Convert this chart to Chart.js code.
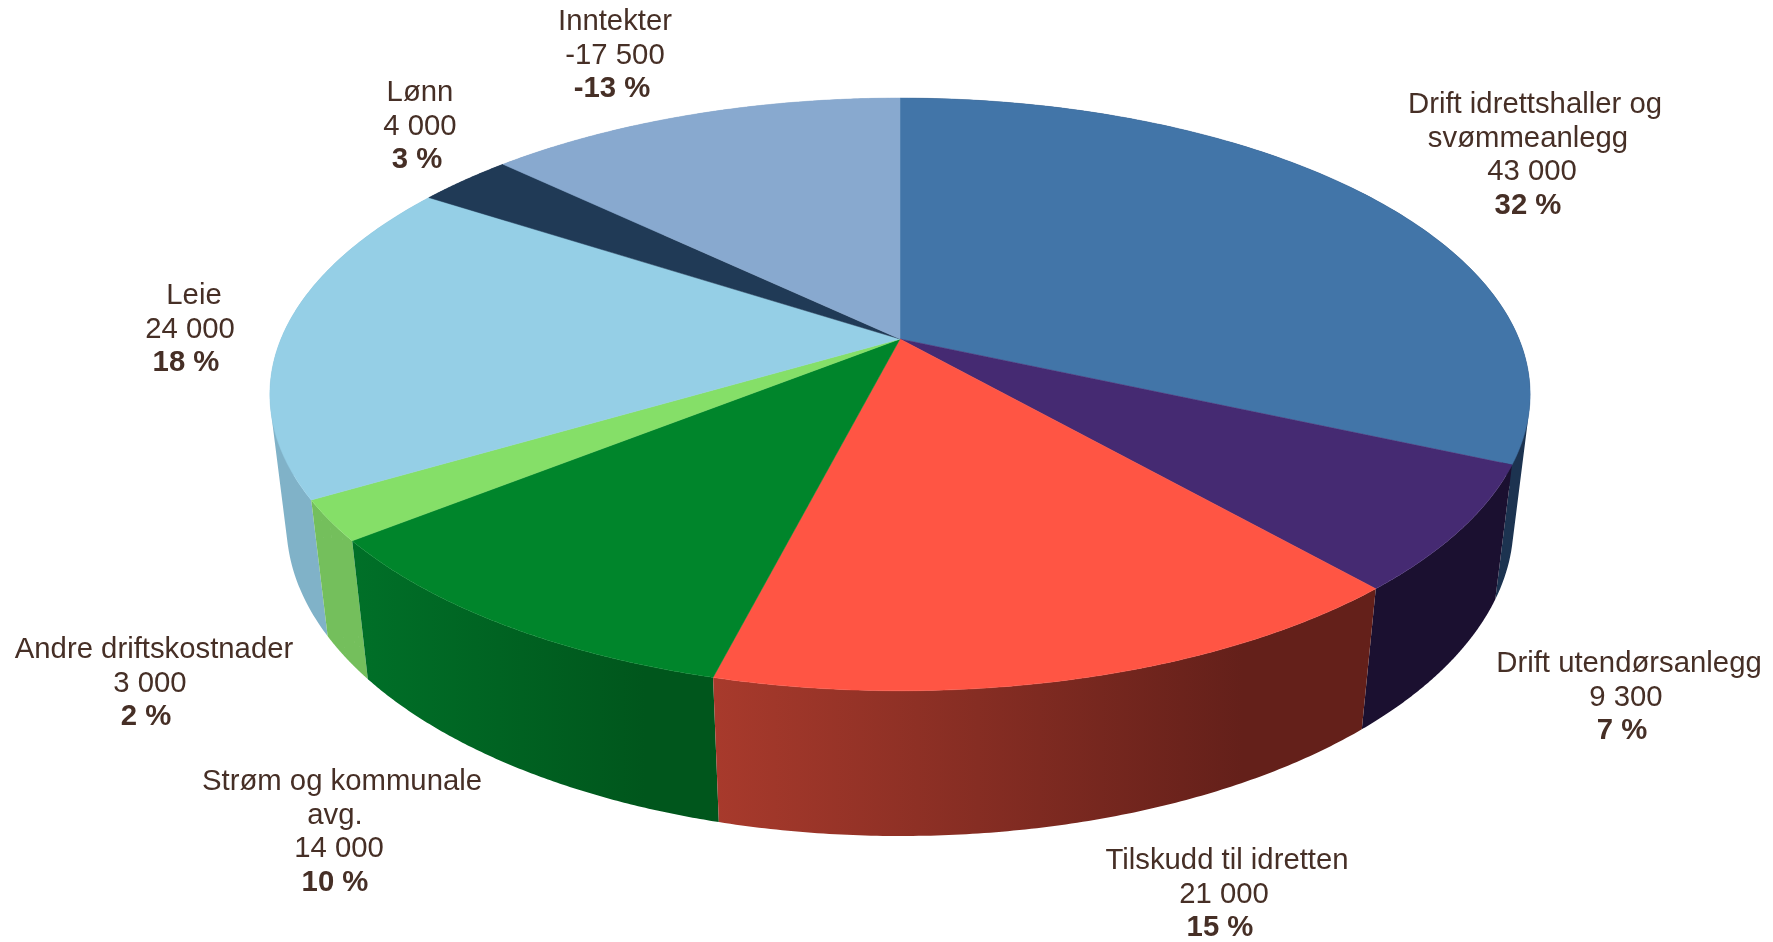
<!DOCTYPE html>
<html lang="no">
<head>
<meta charset="utf-8">
<title>Kostnader idrett</title>
<script src="https://cdn.jsdelivr.net/npm/chart.js@4"></script>
<style>
  html, body { margin: 0; padding: 0; background: #fff; }
  #wrap { width: 1773px; height: 942px; }
</style>
</head>
<body>
<div id="wrap"><canvas id="pie" width="1773" height="942"></canvas></div>
<script>
// Data
const categories = [
  ['Drift idrettshaller og', 'svømmeanlegg'],
  ['Drift utendørsanlegg'],
  ['Tilskudd til idretten'],
  ['Strøm og kommunale', 'avg.'],
  ['Andre driftskostnader'],
  ['Leie'],
  ['Lønn'],
  ['Inntekter']
];
const values = [43000, 9300, 21000, 14000, 3000, 24000, 4000, 17500];
const valueLabels = ['43 000', '9 300', '21 000', '14 000', '3 000', '24 000', '4 000', '-17 500'];
const percentLabels = ['32 %', '7 %', '15 %', '10 %', '2 %', '18 %', '3 %', '-13 %'];

// Farger
const topColors = ['#4275a8', '#452a72', '#ff5544', '#00852b', '#85df68', '#95cfe6', '#203a56', '#88a9cf'];
const wallLeft = ['#1c3350', '#1b1030', '#a83a2c', '#007028', '#74bf5c', '#80b2c8', '#1c3350', '#80a0c0'];
const wallRight = ['#1c3350', '#1b1030', '#64201a', '#00561c', '#74bf5c', '#80b2c8', '#1c3350', '#80a0c0'];

// Plassering av etiketter: midtpunkt x, topp-linje y, forskyvning verdi, forskyvning prosent
const labelPos = [
  [1535, 105, -3, -7], [1629, 664, -3, -7], [1227, 861, -3, -7], [342, 782, -3, -7],
  [154, 650, -4, -8], [194, 296, -4, -8], [420, 93, 0, -3], [615, 22, 0, -3]
];
const textColor = '#462f26';
const lineHeight = 33.8;

// Perspektiv, forhold til radius
const tilt = { bx: 619 / 339, ay: 286 / 339, depth: 131 / 339, p: 0.187, q: 0.026 };

function project(el, t, z) {
  const R = el.outerRadius;
  const u = Math.cos(t);
  const v = Math.sin(t);
  const w = 1 - tilt.p * v + tilt.q * z;
  return {
    x: el.x + tilt.bx * R * u / w,
    y: el.y + (tilt.ay * R * v + tilt.depth * R * z) / w
  };
}

function rim(el, z) {
  const pts = [];
  const n = 120;
  for (let i = 0; i <= n; i++) {
    pts.push(project(el, el.startAngle + (el.endAngle - el.startAngle) * i / n, z));
  }
  return pts;
}

function addPoly(ctx, pts) {
  pts.forEach((p, i) => (i ? ctx.lineTo(p.x, p.y) : ctx.moveTo(p.x, p.y)));
  ctx.closePath();
}

function area(pts) {
  let s = 0;
  pts.forEach((p, i) => {
    const q = pts[(i + 1) % pts.length];
    s += p.x * q.y - q.x * p.y;
  });
  return s;
}

function paint(ctx, fill) {
  ctx.fillStyle = fill;
  ctx.fill();
  ctx.strokeStyle = fill;
  ctx.lineWidth = 0.5;
  ctx.stroke();
}

const pie3d = {
  id: 'pie3d',
  beforeDatasetsDraw(chart) {
    const ctx = chart.ctx;
    const arcs = chart.getDatasetMeta(0).data;
    ctx.save();
    // sidene, bakerst først
    const order = arcs.map((a, i) => i).sort((i, j) =>
      Math.sin((arcs[i].startAngle + arcs[i].endAngle) / 2) - Math.sin((arcs[j].startAngle + arcs[j].endAngle) / 2));
    order.forEach(i => {
      const el = arcs[i];
      const upper = rim(el, 0);
      const lower = rim(el, 1);
      const xs = upper.concat(lower).map(p => p.x);
      const g = ctx.createLinearGradient(Math.min(...xs), 0, Math.max(...xs), 0);
      g.addColorStop(0, wallLeft[i]);
      g.addColorStop(0.8, wallRight[i]);
      g.addColorStop(1, wallRight[i]);
      ctx.beginPath();
      for (let k = 0; k < upper.length - 1; k++) {
        const quad = [upper[k], upper[k + 1], lower[k + 1], lower[k]];
        // samme retning på alle, ellers blir det hull i bretten
        addPoly(ctx, area(quad) < 0 ? quad.reverse() : quad);
      }
      ctx.fillStyle = g;
      ctx.fill();
    });
    // toppen
    arcs.forEach((el, i) => {
      ctx.beginPath();
      addPoly(ctx, [{ x: el.x, y: el.y }].concat(rim(el, 0)));
      paint(ctx, topColors[i]);
    });
    ctx.restore();
    return false;
  },
  afterDraw(chart) {
    const ctx = chart.ctx;
    ctx.save();
    ctx.fillStyle = textColor;
    ctx.textAlign = 'center';
    ctx.textBaseline = 'top';
    categories.forEach((lines, i) => {
      const [x, top, valueShift, percentShift] = labelPos[i];
      let y = top - 15;
      ctx.font = '29.3px "Liberation Sans", Arial, sans-serif';
      lines.forEach((s, k) => {
        ctx.fillText(s, k ? x + percentShift : x, y);
        y += lineHeight;
      });
      ctx.fillText(valueLabels[i], x + valueShift, y);
      y += lineHeight;
      ctx.font = 'bold 29.3px "Liberation Sans", Arial, sans-serif';
      ctx.fillText(percentLabels[i], x + percentShift, y);
    });
    ctx.restore();
  }
};

new Chart(document.getElementById('pie'), {
  type: 'pie',
  data: {
    labels: categories.map(c => c.join(' ')),
    datasets: [{ data: values, backgroundColor: topColors, borderWidth: 0 }]
  },
  options: {
    responsive: false,
    animation: false,
    devicePixelRatio: 1,
    layout: { padding: { left: 27, bottom: 264 } },
    plugins: { legend: { display: false }, tooltip: { enabled: false } }
  },
  plugins: [pie3d]
});
</script>
</body>
</html>
